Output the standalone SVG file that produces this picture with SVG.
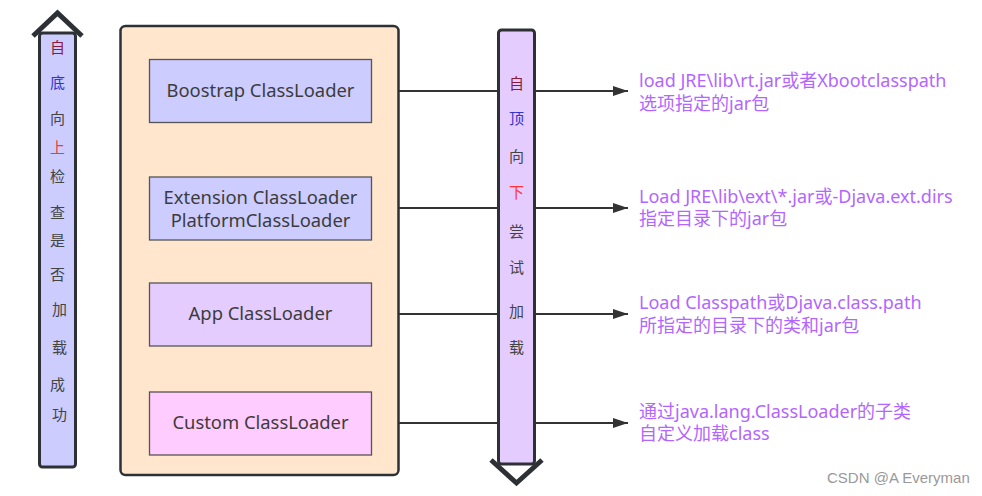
<svg xmlns="http://www.w3.org/2000/svg" width="982" height="496" viewBox="0 0 982 496">
<defs>
<marker id="arr" markerWidth="16" markerHeight="12" refX="15" refY="6" orient="auto" markerUnits="userSpaceOnUse">
<path d="M0,1 L15,6 L0,11 Z" fill="#333"/>
</marker>
<style>
.box{stroke:#555;stroke-width:1.3}
.bt{font-family:"Noto Sans","Noto Sans CJK SC",sans-serif;font-size:18.4px;fill:#3c3c3c;text-anchor:middle}
.lbl{font-family:"Noto Sans","Noto Sans CJK SC",sans-serif;font-size:18px;fill:#b266ff}
.vt{font-family:"Noto Sans CJK SC",sans-serif;font-size:15px;fill:#444;text-anchor:middle}
.bar{stroke:#2d3136;stroke-width:3}
.chev{fill:none;stroke:#2d3136;stroke-width:5;stroke-linejoin:miter}
.con{stroke:#333;stroke-width:2;fill:none}
</style>
</defs>
<rect width="982" height="496" fill="#fff"/>

<g id="connectors">
<line class="con" x1="372" y1="91" x2="628" y2="91" marker-end="url(#arr)"/>
<line class="con" x1="372" y1="208" x2="628" y2="208" marker-end="url(#arr)"/>
<line class="con" x1="372" y1="314" x2="628" y2="314" marker-end="url(#arr)"/>
<line class="con" x1="372" y1="423" x2="628" y2="423" marker-end="url(#arr)"/>
</g>

<g id="container">
<rect x="120.5" y="26" width="278" height="449" rx="5" fill="#ffe6cc" stroke="#2d3136" stroke-width="2.5"/>
</g>

<g id="boostrap">
<rect class="box" x="149.5" y="59.5" width="222" height="63" fill="#ccccff"/>
<text class="bt" x="260.5" y="97">Boostrap ClassLoader</text>
</g>
<g id="extension">
<rect class="box" x="149.5" y="177" width="222" height="63" fill="#ccccff"/>
<text class="bt" x="260.5" y="204">Extension ClassLoader</text>
<text class="bt" x="260.5" y="227">PlatformClassLoader</text>
</g>
<g id="app">
<rect class="box" x="149.5" y="283" width="222" height="63" fill="#e5ccff"/>
<text class="bt" x="260.5" y="320">App ClassLoader</text>
</g>
<g id="custom">
<rect class="box" x="149.5" y="392" width="222" height="63" fill="#ffccff"/>
<text class="bt" x="260.5" y="429">Custom ClassLoader</text>
</g>

<g id="up-arrow">
<rect class="bar" x="39.5" y="33" width="36" height="434" rx="3" fill="#ccccff"/>
<polyline class="chev" points="33,36 57.5,13 82,36"/>
<text class="vt" x="57.5" y="53" style="fill:#8b1a3a">自</text>
<text class="vt" x="57.5" y="88" style="fill:#3333cc">底</text>
<text class="vt" x="57.5" y="124">向</text>
<text class="vt" x="57.5" y="153" style="fill:#ff3333">上</text>
<text class="vt" x="57.5" y="182">检</text>
<text class="vt" x="57.5" y="218">查</text>
<text class="vt" x="57.5" y="246">是</text>
<text class="vt" x="57.5" y="280">否</text>
<text class="vt" x="59.5" y="315">加</text>
<text class="vt" x="59.5" y="353">载</text>
<text class="vt" x="57.5" y="390">成</text>
<text class="vt" x="59.5" y="420">功</text>
</g>

<g id="down-arrow">
<rect class="bar" x="498.5" y="30" width="36" height="434" rx="3" fill="#e5ccff"/>
<polyline class="chev" points="491,460 516.5,483 542,460"/>
<text class="vt" x="516.5" y="89" style="fill:#8b1a3a">自</text>
<text class="vt" x="516.5" y="124" style="fill:#3333cc">顶</text>
<text class="vt" x="516.5" y="162">向</text>
<text class="vt" x="516.5" y="198" style="fill:#ff3333">下</text>
<text class="vt" x="516.5" y="237">尝</text>
<text class="vt" x="516.5" y="273">试</text>
<text class="vt" x="516.5" y="317">加</text>
<text class="vt" x="516.5" y="353">载</text>
</g>

<g id="label-boot">
<text class="lbl" x="639" y="87">load JRE\lib\rt.jar或者Xbootclasspath</text>
<text class="lbl" x="639" y="110">选项指定的jar包</text>
</g>
<g id="label-ext">
<text class="lbl" x="639" y="203">Load JRE\lib\ext\*.jar或-Djava.ext.dirs</text>
<text class="lbl" x="639" y="225">指定目录下的jar包</text>
</g>
<g id="label-app">
<text class="lbl" x="639" y="309">Load Classpath或Djava.class.path</text>
<text class="lbl" x="639" y="332">所指定的目录下的类和jar包</text>
</g>
<g id="label-custom">
<text class="lbl" x="639" y="418">通过java.lang.ClassLoader的子类</text>
<text class="lbl" x="639" y="440">自定义加载class</text>
</g>

<text x="827" y="483" font-family="Liberation Sans, sans-serif" font-size="15" fill="#999">CSDN @A Everyman</text>
</svg>
